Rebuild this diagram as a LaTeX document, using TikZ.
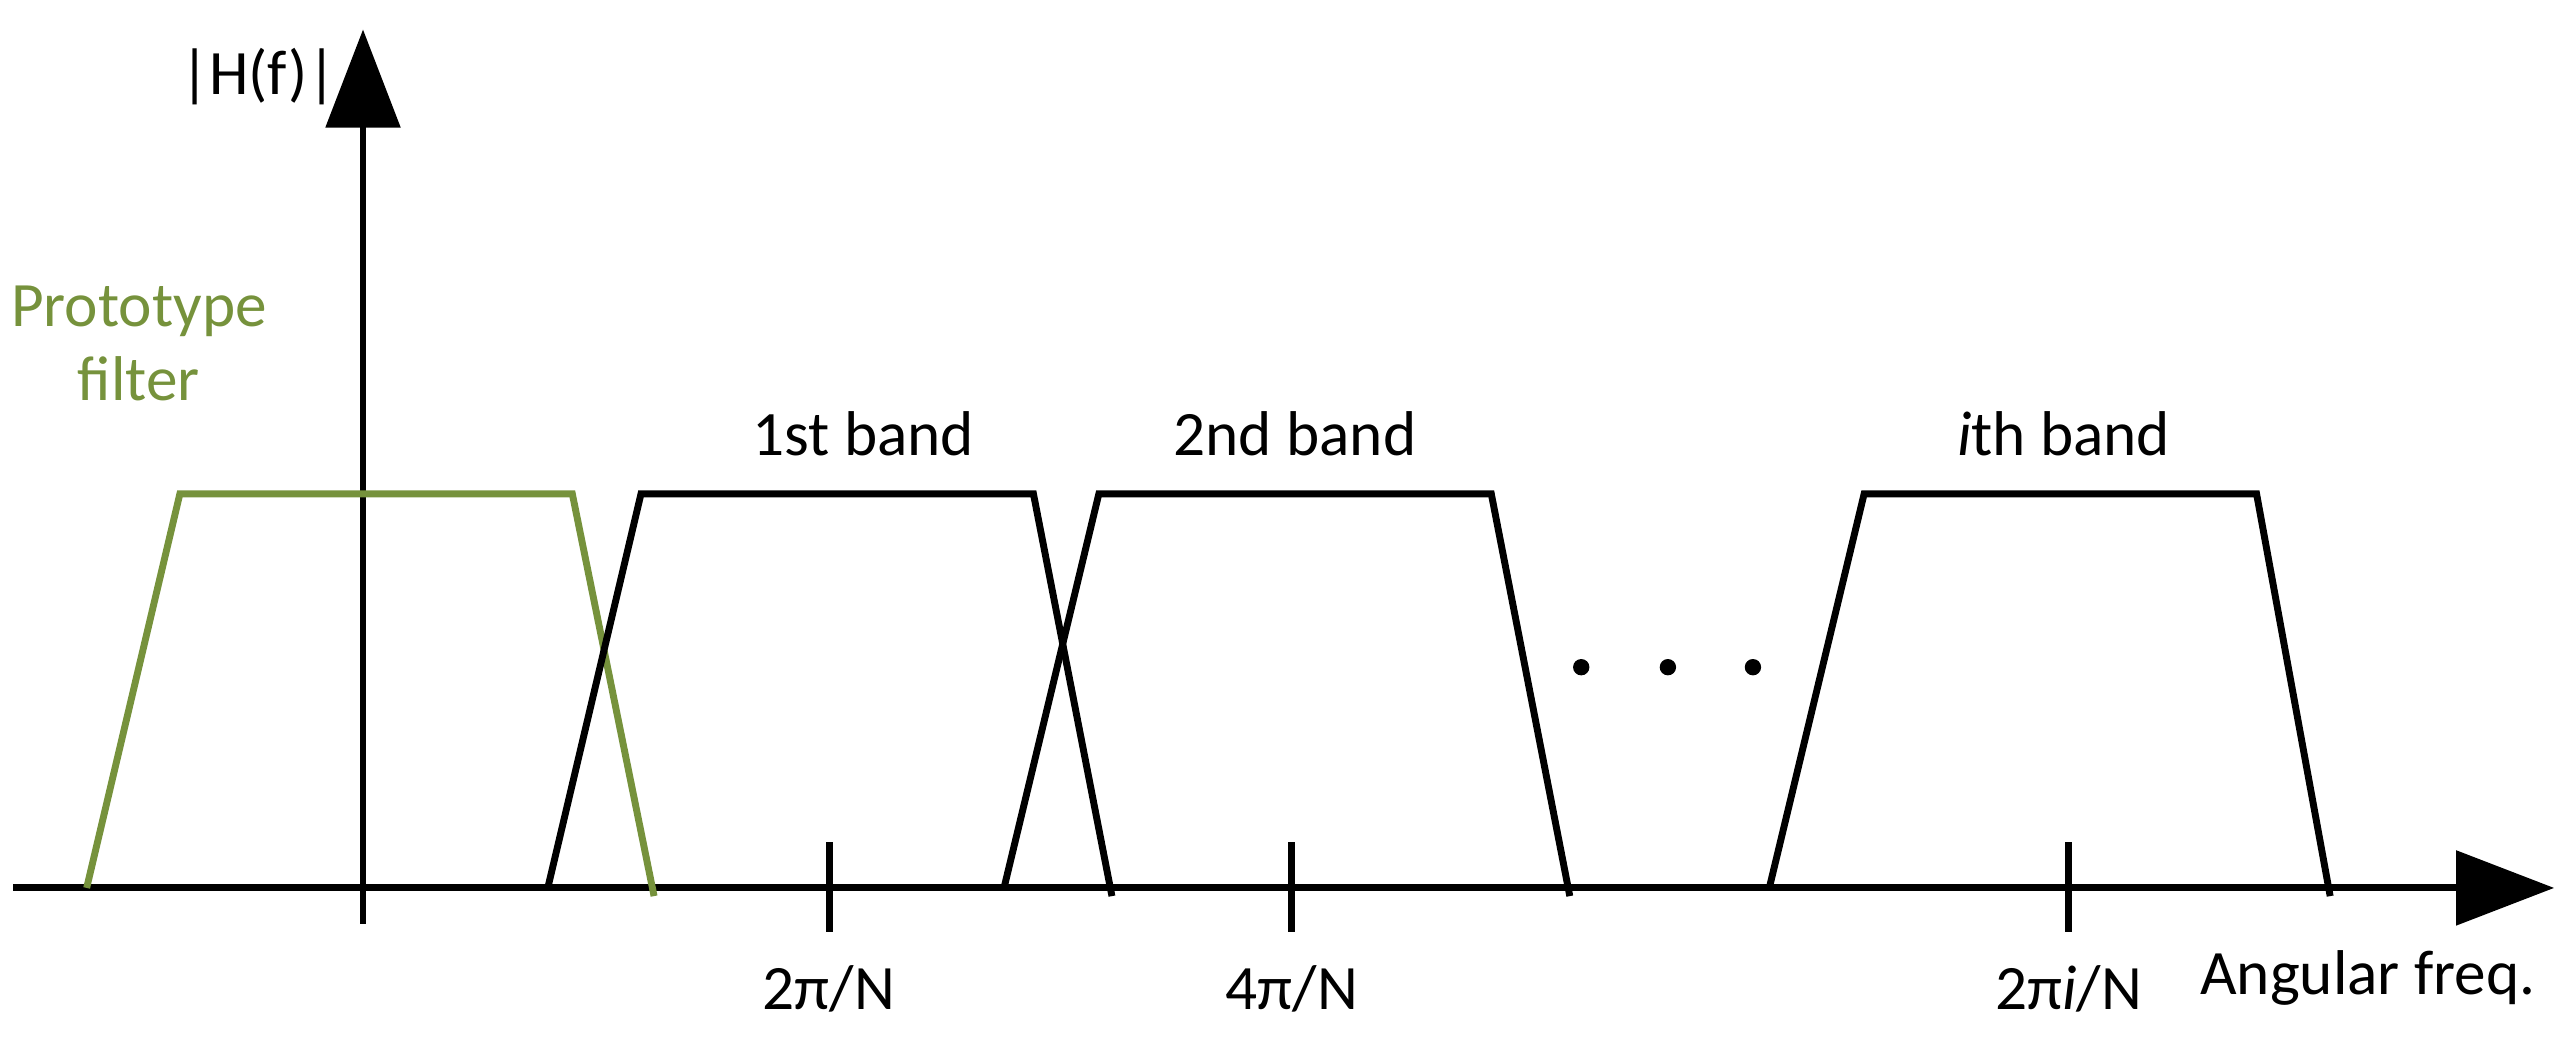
\documentclass[tikz,border=0pt]{standalone}
\usepackage{fontspec}
\setmainfont{Carlito}
\usetikzlibrary{arrows.meta}
\definecolor{olive}{RGB}{118,146,60}
\begin{document}
\begin{tikzpicture}[x=0.01cm,y=-0.01cm,
  curve/.style={line width=1.2pt,line join=miter},
  lbl/.style={font=\fontsize{11}{13}\selectfont,inner sep=0pt},
  axis/.style={line width=1.2pt,-{Triangle[length=0.6cm,width=0.45cm]}}]
\useasboundingbox (0,0) rectangle (1568,641);
% axes
\coordinate (xs) at (8,543); \coordinate (xe) at (1562,543);
\coordinate (ys) at (222,565); \coordinate (ye) at (222,18);
\draw[axis] (xs) -- (xe);
\draw[axis] (ys) -- (ye);
% prototype
\draw[curve,olive] (53,543) -- (110,302) -- (350,302) -- (400,548);
% bands
\draw[curve] (335,543) -- (392,302) -- (632,302) -- (680,548);
\draw[curve] (614,543) -- (672,302) -- (912,302) -- (960,548);
\draw[curve] (1082,543) -- (1140,302) -- (1380,302) -- (1425,548);
% ticks
\foreach \n/\x in {t1/507,t2/790,t3/1265}{
  \coordinate (\n a) at (\x,515); \coordinate (\n b) at (\x,570);
  \draw[curve] (\n a) -- (\n b);}
% dots
\foreach \n/\x in {d1/967,d2/1020,d3/1072}
  \fill (\x,408) circle (0.05cm) coordinate (\n);
% labels
\node[lbl] (l1) at (507,605) {2π/N};
\node[lbl] (l2) at (790,605) {4π/N};
\node[lbl] (l3) at (1265,605) {2π\textit{i}/N};
\node[lbl] (af) at (1448,598) {Angular freq.};
\node[lbl] (hf) at (158,47) {|H(f)|};
\node[lbl,olive,align=center] (pf) at (85,210) {Prototype\\filter};
\node[lbl] (b1) at (528,265) {1st band};
\node[lbl] (b2) at (792,265) {2nd band};
\node[lbl] (b3) at (1262,265) {\textit{i}th band};
\end{tikzpicture}
\end{document}
